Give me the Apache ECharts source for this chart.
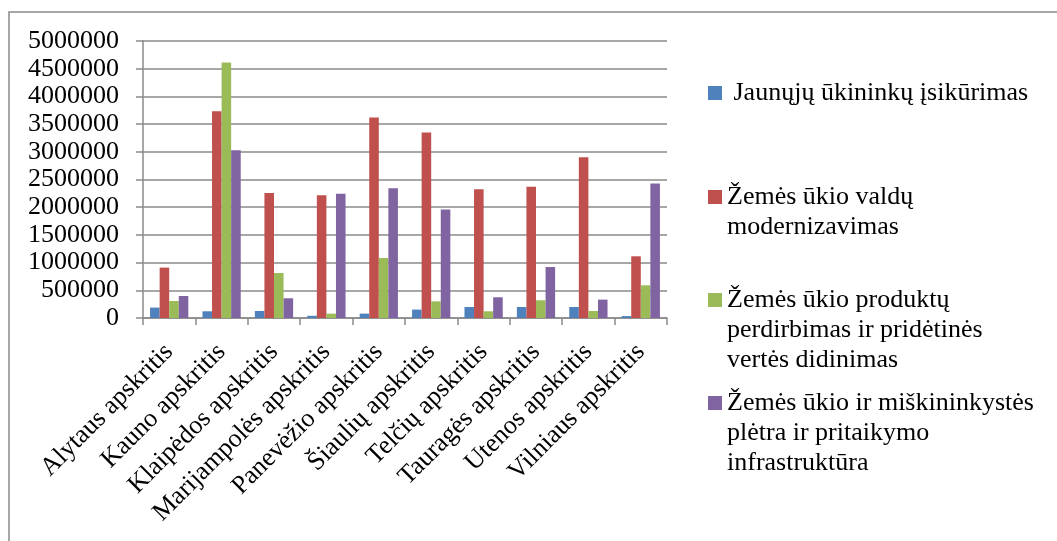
<!DOCTYPE html>
<html>
<head>
<meta charset="utf-8">
<script src="https://cdn.jsdelivr.net/npm/echarts@6/dist/echarts.min.js"></script>
<style>
  html, body { margin: 0; padding: 0; background: #fff; }
  #chart { width: 1057px; height: 541px; }
</style>
</head>
<body>
<div id="chart"></div>
<script>
// apskritys
const categories = ['Alytaus apskritis', 'Kauno apskritis', 'Klaipėdos apskritis', 'Marijampolės apskritis',
  'Panevėžio apskritis', 'Šiaulių apskritis', 'Telčių apskritis', 'Tauragės apskritis',
  'Utenos apskritis', 'Vilniaus apskritis']

// serijų pavadinimai
const seriesNames = [
  ' Jaunųjų ūkininkų įsikūrimas',
  'Žemės ūkio valdų\nmodernizavimas',
  'Žemės ūkio produktų\nperdirbimas ir pridėtinės\nvertės didinimas',
  'Žemės ūkio ir miškininkystės\nplėtra ir pritaikymo\ninfrastruktūra'
]

// reikšmės
const jaunuju = [188000, 121000, 126000, 40000, 79000, 152000, 199000, 199000, 199000, 35000]
const valdu = [910000, 3730000, 2256000, 2215000, 3620000, 3350000, 2323000, 2370000, 2900000, 1114000]
const produktu = [307000, 4610000, 812000, 79000, 1083000, 301000, 121000, 320000, 126000, 590000]
const miskininkystes = [397000, 3030000, 356000, 2245000, 2340000, 1957000, 374000, 920000, 332000, 2426000]

const values = [jaunuju, valdu, produktu, miskininkystes]
const colors = ['#4F81BD', '#C0504D', '#9BBB59', '#8064A2']

const font = "'Liberation Serif', 'Times New Roman', serif"
const lineH = 30

const myChart = echarts.init(document.getElementById('chart'))

// legendos - kiekviena atskirai; ikonėlė prie pirmos eilutės (kelias su tuščiais taškais aukščiui)
const firstLineY = [93, 197, 300, 403]
const legends = seriesNames.map((name, i) => {
  const n = name.split('\n').length
  const h = n * lineH
  return {
    data: [name],
    left: 708,
    top: firstLineY[i] - lineH / 2,
    orient: 'vertical',
    padding: 0,
    icon: 'path://M0,0 L0,0 M0,' + h + ' L0,' + h + ' M0,8 L14,8 L14,22 L0,22 Z',
    itemWidth: 14,
    itemHeight: h,
    selectedMode: false,
    textStyle: {
      fontFamily: font,
      fontSize: 26,
      lineHeight: lineH,
      color: '#000'
    }
  }
})

const series = seriesNames.map((name, i) => ({
  name: name,
  type: 'bar',
  barGap: '0%',
  barCategoryGap: '27%',
  itemStyle: { color: colors[i] },
  data: values[i]
}))

const options = {
  animation: false,
  backgroundColor: '#fff',
  graphic: [{
    type: 'rect',
    shape: { x: 9, y: 12, width: 1200, height: 700 },
    style: { fill: 'none', stroke: '#8a8a8a', lineWidth: 1.5 },
    silent: true
  }],
  legend: legends,
  grid: {
    left: 143,
    right: 390,
    top: 41,
    bottom: 223
  },
  xAxis: {
    type: 'category',
    data: categories,
    axisLine: { lineStyle: { color: '#8a8a8a', width: 1.5 } },
    axisTick: { show: true, length: 7, lineStyle: { color: '#8a8a8a', width: 1.5 } },
    axisLabel: {
      rotate: 45,
      interval: 0,
      margin: 30,
      fontFamily: font,
      fontSize: 26,
      color: '#000'
    }
  },
  yAxis: {
    type: 'value',
    min: 0,
    max: 5000000,
    interval: 500000,
    axisLine: { show: true, lineStyle: { color: '#8a8a8a', width: 1.5 } },
    axisTick: { show: true, length: 7, lineStyle: { color: '#8a8a8a', width: 1.5 } },
    splitLine: { show: true, lineStyle: { color: '#8a8a8a', width: 1.5 } },
    axisLabel: {
      margin: 24,
      fontFamily: font,
      fontSize: 26,
      color: '#000',
      formatter: (v) => String(v)
    }
  },
  series: series
}
myChart.setOption(options)
</script>
</body>
</html>
